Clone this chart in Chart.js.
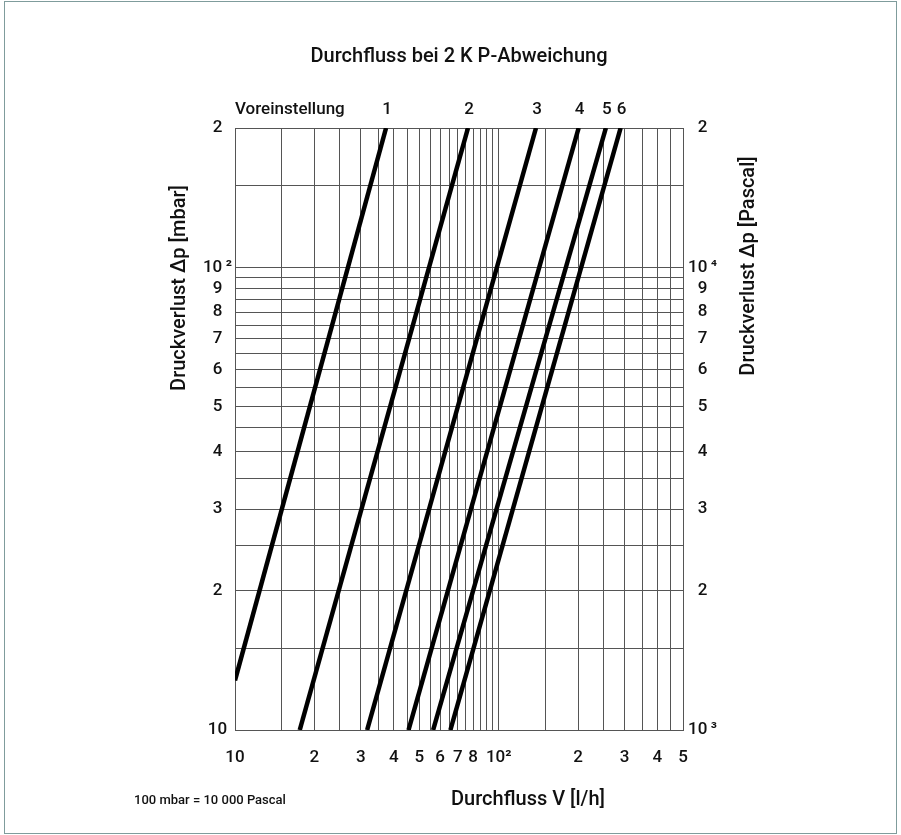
<!DOCTYPE html>
<html>
<head>
<meta charset="utf-8">
<script src="https://cdn.jsdelivr.net/npm/chart.js@4.4.1/dist/chart.umd.min.js"></script>
<style>
    html, body { margin: 0; padding: 0; background: #fff; }
</style>
</head>
<body>
<canvas id="flowChart" width="901" height="835"></canvas>
<script>
// =============================================
// Kennlinien Voreinstellung 1-6 (Endpunkte)
// =============================================
const presets = ['1', '2', '3', '4', '5', '6'];
const flowStart = [10, 17.6, 31.7, 45.5, 56.4, 65.6];   // l/h
const dpStart = [12.8, 10, 10, 10, 10, 10];              // mbar
const flowEnd = [37.4, 76.5, 138.5, 201, 255, 290];      // l/h
const dpEnd = [200, 200, 200, 200, 200, 200];            // mbar

// Raster + Beschriftung
const flowGrid = [10, 15, 20, 25, 30, 35, 40, 45, 50, 55, 60, 65, 70, 75, 80, 85, 90, 95, 100,
    150, 200, 250, 300, 350, 400, 450, 500];
const flowTickLabels = { 10: '10', 20: '2', 30: '3', 40: '4', 50: '5', 60: '6', 70: '7', 80: '8',
    100: '10²', 200: '2', 300: '3', 400: '4', 500: '5' };

const mbarGrid = [10, 15, 20, 25, 30, 35, 40, 45, 50, 55, 60, 65, 70, 75, 80, 85, 90, 95, 100, 150, 200];
const mbarTickLabels = { 10: '10', 20: '2', 30: '3', 40: '4', 50: '5', 60: '6', 70: '7', 80: '8',
    90: '9', 100: '10\u2009²', 200: '2' };

const pascalTicks = [1000, 2000, 3000, 4000, 5000, 6000, 7000, 8000, 9000, 10000, 20000];
const pascalTickLabels = { 1000: '10\u2009³', 2000: '2', 3000: '3', 4000: '4', 5000: '5', 6000: '6',
    7000: '7', 8000: '8', 9000: '9', 10000: '10\u2009⁴', 20000: '2' };

const FONT = 'Roboto';
const TXT = '#111';
const GRID = '#555';
const tickFont = { family: FONT, size: 17, weight: '500' };

// Texte ausserhalb der Achsen
const textPlugin = {
    id: 'texte',
    beforeDraw(chart) {
        const c = chart.ctx;
        c.save();
        c.fillStyle = '#fff';
        c.fillRect(0, 0, chart.width, chart.height);
        c.strokeStyle = '#7f9c9c';
        c.lineWidth = 1;
        c.strokeRect(4.5, 1.5, chart.width - 9, chart.height - 3);
        c.restore();
    },
    afterDraw(chart) {
        const c = chart.ctx;
        const area = chart.chartArea;
        const xs = chart.scales.x;
        c.save();
        c.fillStyle = TXT;
        c.textBaseline = 'middle';

        c.font = '500 20px ' + FONT;
        c.textAlign = 'center';
        c.fillText('Durchfluss bei 2 K P-Abweichung', (area.left + area.right) / 2, 57);

        c.font = '500 17px ' + FONT;
        c.textAlign = 'left';
        c.fillText('Voreinstellung', area.left, 110);
        c.textAlign = 'center';
        presets.forEach((p, i) => {
            c.fillText(p, xs.getPixelForValue(flowEnd[i]) + 1, 110);
        });

        // Achsentitel
        c.font = '500 20px ' + FONT;
        c.fillText('Durchfluss V [l/h]', 528, 800);
        c.save();
        c.translate(180, 288);
        c.rotate(-Math.PI / 2);
        c.fillText('Druckverlust \u0394p [mbar]', 0, 0);
        c.restore();
        c.save();
        c.translate(749, 266);
        c.rotate(-Math.PI / 2);
        c.fillText('Druckverlust \u0394p [Pascal]', 0, 0);
        c.restore();

        c.font = '500 13px ' + FONT;
        c.fillText('100 mbar = 10 000 Pascal', 210, 801);
        c.restore();
    }
};

const ctx = document.getElementById('flowChart');
new Chart(ctx, {
    type: 'line',
    data: {
        datasets: presets.map((p, i) => ({
            label: 'Voreinstellung ' + p,
            data: [{ x: flowStart[i], y: dpStart[i] }, { x: flowEnd[i], y: dpEnd[i] }],
            borderColor: '#000',
            borderWidth: 4.5,
            pointRadius: 0,
            fill: false,
            tension: 0,
            yAxisID: 'y'
        }))
    },
    options: {
        responsive: false,
        animation: false,
        devicePixelRatio: 1,
        layout: { padding: { top: 128, left: 0, right: 0, bottom: 0 } },
        plugins: {
            legend: { display: false },
            tooltip: { enabled: false }
        },
        scales: {
            x: {
                type: 'logarithmic',
                min: 10,
                max: 500,
                afterBuildTicks: s => { s.ticks = flowGrid.map(v => ({ value: v })); },
                afterFit: s => { s.height = 105; },
                ticks: {
                    autoSkip: false,
                    maxRotation: 0,
                    padding: 18,
                    font: tickFont,
                    color: TXT,
                    callback: v => flowTickLabels[v] || ''
                },
                grid: { color: GRID, drawTicks: false },
                border: { color: GRID }
            },
            y: {
                type: 'logarithmic',
                position: 'left',
                min: 10,
                max: 200,
                afterBuildTicks: s => { s.ticks = mbarGrid.map(v => ({ value: v })); },
                afterFit: s => { s.width = 235; },
                ticks: {
                    autoSkip: false,
                    crossAlign: 'center',
                    padding: 3,
                    font: tickFont,
                    color: TXT,
                    callback: v => mbarTickLabels[v] || ''
                },
                grid: { color: GRID, drawTicks: false },
                border: { color: GRID }
            },
            y2: {
                type: 'logarithmic',
                position: 'right',
                min: 1000,
                max: 20000,
                afterBuildTicks: s => { s.ticks = pascalTicks.map(v => ({ value: v })); },
                afterFit: s => { s.width = 218; },
                ticks: {
                    autoSkip: false,
                    crossAlign: 'center',
                    padding: 5,
                    font: tickFont,
                    color: TXT,
                    callback: v => pascalTickLabels[v] || ''
                },
                grid: { drawOnChartArea: false, drawTicks: false },
                border: { color: GRID }
            }
        }
    },
    plugins: [textPlugin]
});
</script>
</body>
</html>
